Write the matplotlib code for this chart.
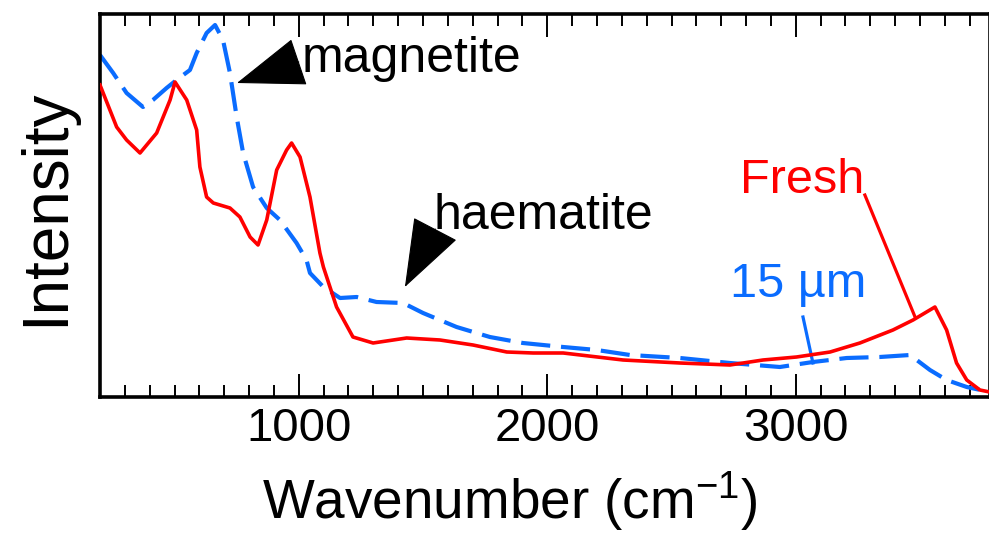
import matplotlib
matplotlib.use("Agg")
import matplotlib.pyplot as plt
from matplotlib.ticker import MultipleLocator

plt.rcParams['font.family'] = ['Liberation Sans', 'DejaVu Sans']
plt.rcParams['mathtext.fontset'] = 'custom'
plt.rcParams['mathtext.rm'] = 'Liberation Sans'
plt.rcParams['mathtext.it'] = 'Liberation Sans:italic'

# spectra (wavenumber, relative intensity)
fresh_wn = [200, 267, 307, 361, 428, 482, 502, 549, 589, 602, 629, 656, 723, 763,
            804, 836, 871, 911, 951, 971, 1005, 1045, 1085, 1099, 1152, 1218, 1299,
            1434, 1568, 1701, 1837, 1943, 2064, 2305, 2534, 2735, 2868, 3003, 3138,
            3258, 3391, 3472, 3560, 3607, 3647, 3688, 3741, 3780]
fresh_int = [312, 270, 257, 244, 264, 297, 315, 297, 267, 230, 200, 194, 189, 180,
             160, 152, 177, 227, 247, 254, 240, 200, 144, 130, 90, 60, 54,
             59, 57, 52, 45, 44, 44, 37, 34, 32, 37, 40, 45,
             54, 67, 77, 90, 67, 34, 17, 7, 5]

etched_wn = [200, 253, 307, 373, 413, 468, 508, 562, 589, 629, 663, 695, 723, 750,
             776, 816, 871, 924, 991, 1031, 1045, 1099, 1166, 1233, 1313, 1420, 1500,
             1635, 1769, 1902, 2064, 2199, 2333, 2534, 2735, 2936, 3069, 3205, 3338,
             3460, 3540, 3607, 3688, 3780]
etched_int = [342, 324, 304, 290, 297, 309, 317, 327, 344, 364, 372, 357, 324, 280,
              244, 210, 189, 177, 154, 137, 124, 110, 99, 100, 95, 94, 84,
              70, 60, 54, 50, 47, 42, 39, 34, 30, 35, 39, 40,
              42, 27, 17, 10, 5]

red = '#ff0000'
blue = '#0a6cff'

fig = plt.figure(figsize=(9.89, 5.33), dpi=100)
ax = fig.add_axes([100/989, 136/533, 889.6/989, 383/533])

ax.plot(fresh_wn, fresh_int, color=red, lw=2.6, zorder=3)
ax.plot(etched_wn, etched_int, color=blue, lw=3.0, dashes=(7, 2.6), zorder=2)

ax.set_xlim(200, 3780)
ax.set_ylim(0, 383)

ax.xaxis.set_major_locator(MultipleLocator(1000))
ax.xaxis.set_minor_locator(MultipleLocator(100))
ax.set_yticks([])
ax.tick_params(axis='x', which='both', direction='in', top=True, bottom=True,
               width=1.4, labelsize=34, pad=7)
ax.tick_params(axis='x', which='major', length=16.5)
ax.tick_params(axis='x', which='minor', length=8.5)
for s in ax.spines.values():
    s.set_linewidth(2.6)

fig.text(510/989, 14/533, r'Wavenumber (cm$^{-1}$)', fontsize=39.5,
         ha='center', va='baseline')
fig.text(46/989, (533 - 207)/533, 'Intensity', fontsize=46, rotation=90,
         ha='center', va='center')

# labels and arrows
ax.text(1012, 325, 'magnetite', fontsize=36, va='baseline', ha='left')
ax.text(1543, 168, 'haematite', fontsize=36, va='baseline', ha='left')
ax.text(2775, 204, 'Fresh', fontsize=35, va='baseline', ha='left', color=red)
ax.text(2735, 100, '15 µm', fontsize=35, va='baseline', ha='left', color=blue)

arrow = dict(arrowstyle='-|>,head_length=1.3,head_width=0.47',
             fc='k', ec='k', lw=0.8, shrinkA=0, shrinkB=0, mutation_scale=35)
ax.annotate('', xy=(751, 314), xytext=(1000, 335), arrowprops=arrow)
ax.annotate('', xy=(1427, 110), xytext=(1549, 168), arrowprops=arrow)

ax.plot([3278, 3480], [202, 80], color=red, lw=2.3)
ax.plot([3029, 3069], [80, 34], color=blue, lw=2.3)

fig.savefig('out.png', dpi=100)
